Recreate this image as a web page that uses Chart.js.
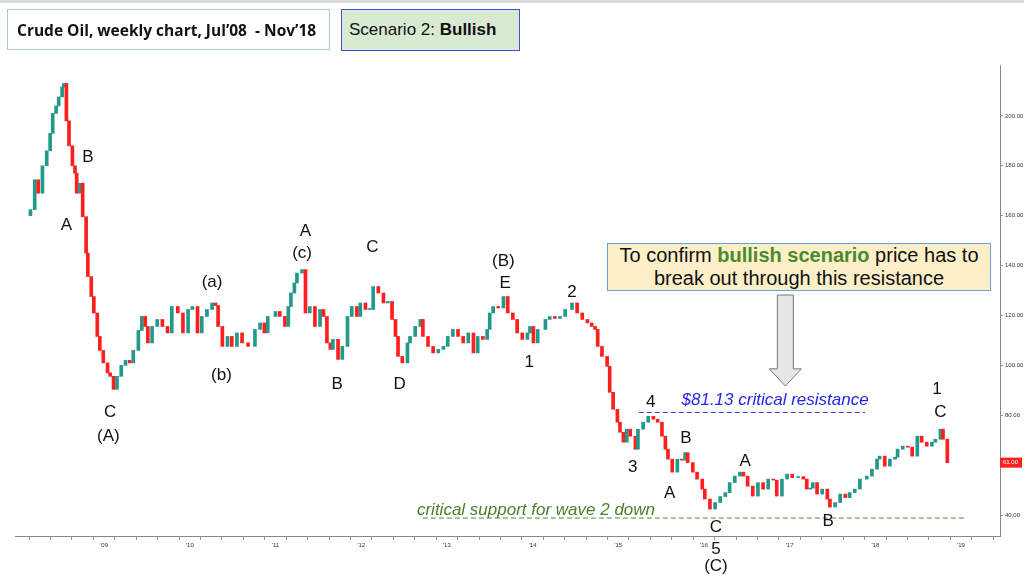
<!DOCTYPE html>
<html>
<head>
<meta charset="utf-8">
<script src="https://cdn.jsdelivr.net/npm/chart.js@4.4.0/dist/chart.umd.min.js"></script>
<style>
  body { margin: 0; background: #fff; }
  #wrap { position: relative; width: 1024px; height: 581px; overflow: hidden; font-family: "Liberation Sans", Arial, sans-serif; }
  #topline { position: absolute; left: 0; top: 0; width: 1024px; height: 3px; background: #dcdcdc; }
  .box { position: absolute; box-sizing: border-box; display: flex; align-items: center; color: #111; }
  #title { left: 7px; top: 9px; width: 323px; height: 41px; border: 1px solid #a9c7e8; font-family: "Open Sans", sans-serif; font-weight: bold; font-size: 15.5px; padding-left: 9px; }
  #scen { left: 341px; top: 9px; width: 179px; height: 42px; border: 1.5px solid #4a4ae0; background: #d9ead3; font-size: 17px; padding-left: 7px; }
  #note { left: 607px; top: 243px; width: 384px; height: 48px; border: 1px solid #6f9fdc; background: #fdf0c8; font-size: 20px; text-align: center; justify-content: center; line-height: 23px; }
  #note b { color: #4b8a2c; }
  canvas { position: absolute; left: 0; top: 0; }
</style>
</head>
<body>
<div id="wrap">
  <canvas id="chart" width="1024" height="581"></canvas>
  <div id="topline"></div>
  <div class="box" id="title">Crude Oil, weekly chart, Jul’08&nbsp; - Nov’18</div>
  <div class="box" id="scen">Scenario 2:&nbsp;<b>Bullish</b></div>
  <div class="box" id="note"><div>To confirm <b>bullish scenario</b> price has to<br>break out through this resistance</div></div>
</div>
<script>
// ====== DATA ======
// weekly-ish closes (decimal year, price)
const dates = [
  2008.14, 2008.19, 2008.23, 2008.28, 2008.33, 2008.37, 2008.40, 2008.44, 2008.47, 2008.51,
  2008.53, 2008.56, 2008.59, 2008.63, 2008.66, 2008.68, 2008.72, 2008.75, 2008.79, 2008.81,
  2008.85, 2008.88, 2008.92, 2008.95, 2008.99, 2009.04, 2009.07, 2009.11, 2009.15, 2009.20,
  2009.25, 2009.30, 2009.34, 2009.40, 2009.44, 2009.48, 2009.51, 2009.56, 2009.62, 2009.68,
  2009.74, 2009.79, 2009.86, 2009.92, 2009.98, 2010.03, 2010.09, 2010.14, 2010.20, 2010.26,
  2010.30, 2010.33, 2010.38, 2010.44, 2010.49, 2010.55, 2010.61, 2010.68, 2010.76, 2010.82,
  2010.87, 2010.91, 2011.00, 2011.05, 2011.11, 2011.15, 2011.18, 2011.22, 2011.25, 2011.31,
  2011.35, 2011.40, 2011.46, 2011.52, 2011.56, 2011.60, 2011.64, 2011.67, 2011.73, 2011.78,
  2011.84, 2011.89, 2011.95, 2011.99, 2012.05, 2012.10, 2012.14, 2012.20, 2012.26, 2012.31,
  2012.36, 2012.40, 2012.43, 2012.48, 2012.54, 2012.57, 2012.63, 2012.69, 2012.72, 2012.78,
  2012.84, 2012.90, 2012.96, 2013.01, 2013.07, 2013.13, 2013.19, 2013.25, 2013.31, 2013.36,
  2013.42, 2013.47, 2013.50, 2013.54, 2013.60, 2013.66, 2013.71, 2013.77, 2013.82, 2013.88,
  2013.94, 2013.97, 2014.01, 2014.06, 2014.15, 2014.20, 2014.26, 2014.32, 2014.38, 2014.46,
  2014.52, 2014.58, 2014.64, 2014.69, 2014.73, 2014.76, 2014.81, 2014.87, 2014.90, 2014.94,
  2014.99, 2015.02, 2015.06, 2015.10, 2015.14, 2015.20, 2015.23, 2015.29, 2015.35, 2015.41,
  2015.46, 2015.51, 2015.55, 2015.58, 2015.63, 2015.69, 2015.74, 2015.78, 2015.81, 2015.87,
  2015.92, 2015.98, 2016.01, 2016.07, 2016.13, 2016.19, 2016.25, 2016.30, 2016.36, 2016.42,
  2016.46, 2016.51, 2016.57, 2016.63, 2016.69, 2016.75, 2016.81, 2016.85, 2016.91, 2016.97,
  2017.03, 2017.10, 2017.16, 2017.20, 2017.24, 2017.27, 2017.32, 2017.38, 2017.44, 2017.47,
  2017.53, 2017.59, 2017.65, 2017.70, 2017.76, 2017.82, 2017.90, 2017.96, 2018.02, 2018.05,
  2018.11, 2018.17, 2018.23, 2018.26, 2018.32, 2018.38, 2018.43, 2018.49, 2018.54, 2018.60,
  2018.66, 2018.70, 2018.76, 2018.79, 2018.84
];
const closes = [
  162.4, 174.4, 169.0, 180.0, 186.0, 193.0, 201.0, 204.0, 207.6, 211.6,
  213.0, 198.0, 188.0, 180.0, 177.0, 169.0, 173.0, 159.6, 145.0, 135.6,
  127.6, 121.0, 111.6, 106.0, 101.0, 97.0, 95.6, 90.4, 95.6, 100.0,
  102.0, 101.0, 106.0, 114.0, 119.6, 115.6, 109.0, 115.6, 118.4, 115.6,
  113.0, 123.6, 121.0, 113.0, 122.4, 123.6, 113.0, 119.6, 122.4, 125.0,
  124.0, 115.6, 107.6, 111.6, 107.6, 113.0, 109.0, 107.6, 114.4, 117.0,
  113.0, 119.6, 121.6, 119.6, 115.6, 123.6, 129.0, 133.0, 137.0, 138.4,
  121.0, 123.6, 115.6, 122.4, 119.6, 109.0, 106.4, 110.4, 102.4, 107.6,
  119.6, 123.6, 119.6, 125.0, 122.4, 122.4, 131.6, 129.0, 125.0, 125.6,
  118.4, 111.6, 103.6, 101.0, 109.0, 111.6, 115.6, 118.4, 111.6, 107.6,
  105.0, 106.4, 107.6, 111.6, 114.4, 111.6, 109.0, 113.0, 105.0, 111.6,
  110.4, 114.4, 121.0, 123.6, 123.0, 127.6, 121.0, 118.4, 113.0, 110.4,
  113.0, 115.6, 109.0, 114.4, 118.4, 119.6, 118.8, 119.6, 122.4, 125.0,
  121.0, 118.4, 117.0, 115.6, 114.4, 107.6, 103.6, 99.6, 89.2, 82.4,
  77.2, 73.2, 69.2, 74.4, 71.6, 66.4, 74.4, 77.2, 79.6, 78.4,
  77.2, 71.6, 66.4, 62.4, 57.2, 62.4, 62.0, 65.0, 61.0, 57.2,
  54.4, 50.4, 46.4, 42.4, 45.0, 47.4, 49.0, 53.0, 55.6, 57.2,
  55.6, 51.6, 47.6, 53.0, 50.4, 54.4, 54.0, 47.6, 54.4, 56.4,
  55.0, 55.4, 54.4, 50.4, 50.8, 53.0, 48.4, 50.4, 46.4, 43.2,
  45.0, 48.4, 47.0, 49.0, 50.4, 54.4, 55.6, 58.4, 62.4, 63.6,
  59.6, 62.4, 63.2, 66.4, 67.6, 67.2, 63.6, 71.6, 69.2, 67.6,
  69.2, 70.4, 74.4, 70.4, 61.0
];
const firstOpen = 160.0;
const lastPrice = 61.0;

// y axis ticks 40..200, x axis year labels '09..'19
const yTicks = [40, 60, 80, 100, 120, 140, 160, 180, 200];
const firstYearLabel = 2009;

// Elliott wave labels: text, year, price
const waveText  = ["B", "A", "C", "(A)", "(a)", "(b)", "A", "(c)", "B", "C", "D", "(B)", "E", "1", "2", "3", "4", "A", "B", "A", "C", "5", "(C)", "B", "1", "C"];
const waveYear  = [2008.81, 2008.56, 2009.07, 2009.05, 2010.26, 2010.37, 2011.35, 2011.31, 2011.72, 2012.13, 2012.45, 2013.66, 2013.68, 2013.96, 2014.46, 2015.17, 2015.38, 2015.60, 2015.79, 2016.48, 2016.14, 2016.14, 2016.14, 2017.45, 2018.72, 2018.76];
const wavePrice = [183.2, 156.3, 81.3, 71.7, 133.4, 96.1, 153.9, 145.1, 92.5, 147.5, 92.5, 141.9, 133.0, 101.4, 129.4, 59.3, 85.1, 48.8, 70.9, 61.7, 35.2, 26.4, 19.6, 37.6, 90.5, 81.3];

// resistance / support levels
const resistance = { price: 81.13, from: 2015.24, to: 2017.88, label: "$81.13 critical resistance", labelYear: 2016.83, labelPrice: 86.1 };
const support = { price: 38.8, from: 2012.72, to: 2019.07, label: "critical support for wave 2 down", labelYear: 2014.04, labelPrice: 41.8 };
const arrow = { year: 2016.95, top: 128.2, neck: 98.6, tip: 91.7 };

// ====== CANDLES ======
const UP = "#23998b";
const DOWN = "#ff1f1f";
const candles = closes.map((c, i) => {
  const o = i === 0 ? firstOpen : closes[i - 1];
  return { x: dates[i], y: [o, c] };
});
const candleColors = candles.map(c => (c.y[1] >= c.y[0] ? UP : DOWN));

// ====== ANNOTATIONS ======
const annotations = {
  id: "annotations",
  afterDatasetsDraw(chart) {
    const { ctx, scales } = chart;
    const X = v => scales.x.getPixelForValue(v);
    const Y = v => scales.y.getPixelForValue(v);
    ctx.save();

    // dashed levels
    ctx.lineWidth = 1;
    ctx.setLineDash([5, 3]);
    ctx.strokeStyle = "#3333ee";
    ctx.beginPath();
    ctx.moveTo(X(resistance.from), Y(resistance.price));
    ctx.lineTo(X(resistance.to), Y(resistance.price));
    ctx.stroke();
    ctx.strokeStyle = "#4f8a36";
    ctx.beginPath();
    ctx.moveTo(X(support.from), Y(support.price));
    ctx.lineTo(X(support.to), Y(support.price));
    ctx.stroke();
    ctx.setLineDash([]);

    // level texts
    ctx.textAlign = "center";
    ctx.textBaseline = "middle";
    ctx.font = "italic 17px 'Liberation Sans', Arial, sans-serif";
    ctx.fillStyle = "#2424ee";
    ctx.fillText(resistance.label, X(resistance.labelYear), Y(resistance.labelPrice));
    ctx.fillStyle = "#4a7f2a";
    ctx.fillText(support.label, X(support.labelYear), Y(support.labelPrice));

    // wave labels
    ctx.font = "17px 'Liberation Sans', Arial, sans-serif";
    ctx.fillStyle = "#111";
    waveText.forEach((t, i) => ctx.fillText(t, X(waveYear[i]), Y(wavePrice[i])));

    // block arrow
    const ax = X(arrow.year);
    const yt = Y(arrow.top), yn = Y(arrow.neck), yp = Y(arrow.tip);
    ctx.beginPath();
    ctx.moveTo(ax - 8, yt);
    ctx.lineTo(ax + 8, yt);
    ctx.lineTo(ax + 8, yn);
    ctx.lineTo(ax + 16, yn);
    ctx.lineTo(ax, yp);
    ctx.lineTo(ax - 16, yn);
    ctx.lineTo(ax - 8, yn);
    ctx.closePath();
    ctx.fillStyle = "#e6e6e6";
    ctx.fill();
    ctx.strokeStyle = "#777";
    ctx.lineWidth = 1;
    ctx.stroke();

    // last price tag on the axis
    const py = Y(lastPrice);
    ctx.fillStyle = "#ff2020";
    ctx.fillRect(scales.y.left, py - 5, 22, 10);
    ctx.fillStyle = "#fff";
    ctx.font = "6px 'Liberation Sans', Arial, sans-serif";
    ctx.textAlign = "left";
    ctx.fillText(lastPrice.toFixed(2), scales.y.left + 3, py);
    ctx.restore();
  }
};

// ====== CHART ======
new Chart(document.getElementById("chart").getContext("2d"), {
  type: "bar",
  data: {
    datasets: [{
      data: candles,
      backgroundColor: candleColors,
      barThickness: 3,
      minBarLength: 1,
      borderWidth: 0
    }]
  },
  options: {
    responsive: false,
    animation: false,
    layout: { padding: { left: 15, top: 65, right: 0, bottom: 0 } },
    plugins: { legend: { display: false }, tooltip: { enabled: false } },
    scales: {
      x: {
        type: "linear",
        min: 2007.96,
        max: 2019.455,
        offset: false,
        grid: { drawOnChartArea: false, tickLength: 4, color: "#999" },
        border: { color: "#888" },
        ticks: {
          stepSize: 0.25,
          includeBounds: false,
          autoSkip: false,
          maxRotation: 0,
          padding: 2,
          color: "#333",
          font: { size: 6 },
          callback: v => (Number.isInteger(v) && v >= firstYearLabel ? "'" + String(v).slice(2) : "")
        },
        afterFit: s => { s.height = 45; }
      },
      y: {
        position: "right",
        min: 31.6,
        max: 220.4,
        grid: { drawOnChartArea: false, tickLength: 3, color: "#999" },
        border: { color: "#888" },
        afterBuildTicks: s => { s.ticks = yTicks.map(v => ({ value: v })); },
        ticks: {
          padding: 2,
          color: "#333",
          font: { size: 6 },
          callback: v => v.toFixed(2)
        },
        afterFit: s => { s.width = 24; }
      }
    }
  },
  plugins: [annotations]
});
</script>
</body>
</html>
